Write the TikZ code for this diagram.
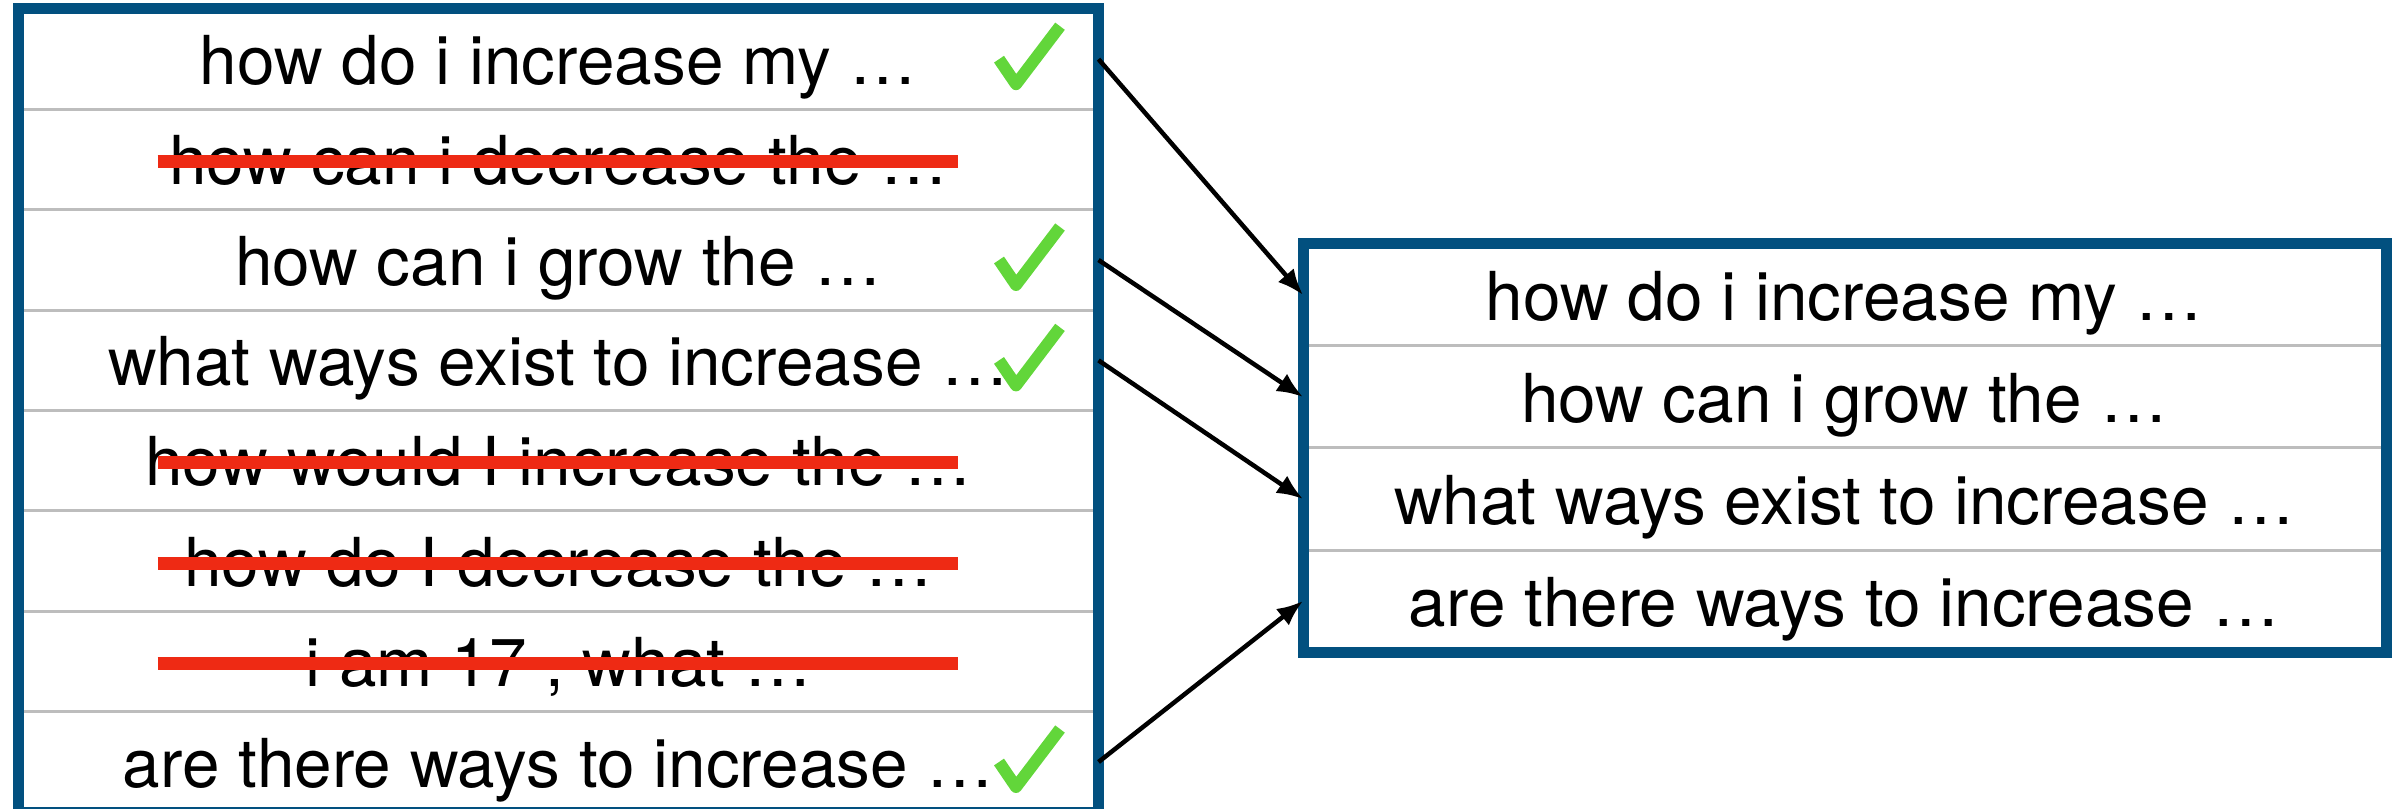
\documentclass[tikz,border=0pt]{standalone}
\usepackage{fontspec}
\setmainfont{TeX Gyre Heros}
\usetikzlibrary{arrows.meta,positioning,calc,fit}
\definecolor{Frame}{HTML}{02507F}
\definecolor{Sep}{HTML}{BDBDBD}
\definecolor{Keep}{HTML}{62D63A}
\definecolor{Drop}{HTML}{EE2A14}
\tikzset{
  row/.style={minimum width=10.80cm,minimum height=1.004cm,inner sep=0pt,outer sep=0pt,
    text height=.62cm,text depth=.116cm,align=center,font=\fontsize{19.2}{23}\selectfont},
  rrow/.style={row,minimum width=10.83cm,minimum height=1.02cm},
  frame/.style={draw=Frame,line width=.11cm,inner sep=0pt,outer sep=0pt},
  sepline/.style={draw=Sep,line width=.03cm},
  strike/.style={draw=Drop,line width=.13cm},
  tickline/.style={draw=Keep,line width=.12cm,line join=round},
  link/.style={-{Latex[length=2.6mm,width=2.1mm]},draw=black,line width=.045cm},
  okmark/.pic={\draw[tickline] (-0.31,0.0) -- (-0.14,-0.25) -- (0.30,0.33);}
}
\begin{document}
\begin{tikzpicture}[node distance=0pt]
  \useasboundingbox (0,0) rectangle (23.94,-8.09);
  % candidate list
  \node[row] (l1) at (5.585,-0.592) {how do i increase my …};
  \node[row,below=of l1] (l2) {how can i decrease the …};
  \node[row,below=of l2] (l3) {how can i grow the …};
  \node[row,below=of l3] (l4) {what ways exist to increase …};
  \node[row,below=of l4] (l5) {how would I increase the …};
  \node[row,below=of l5] (l6) {how do I decrease the …};
  \node[row,below=of l6] (l7) {i am 17 , what …};
  \node[row,below=of l7] (l8) {are there ways to increase …};
  \foreach \i in {1,...,7}
    \draw[sepline] (l\i.south west) -- (l\i.south east);
  \node[frame,fit=(l1)(l8)] (left) {};

  % kept list
  \node[rrow] (r1) at (18.445,-2.95) {how do i increase my …};
  \node[rrow,below=of r1] (r2) {how can i grow the …};
  \node[rrow,below=of r2] (r3) {what ways exist to increase …};
  \node[rrow,below=of r3] (r4) {are there ways to increase …};
  \foreach \i in {1,2,3}
    \draw[sepline] (r\i.south west) -- (r\i.south east);
  \node[frame,fit=(r1)(r4)] (right) {};

  % marks
  \foreach \i in {2,5,6,7}
    \draw[strike] ($(l\i.center)+(-4.01,-0.02)$) -- ($(l\i.center)+(3.99,-0.02)$);
  \foreach \i in {1,3,4,8}
    \pic at ($(l\i.center)+(4.715,0)$) {okmark};

  \draw[link] (l1.east) -- (r1.west);
  \draw[link] (l3.east) -- (r2.west);
  \draw[link] (l4.east) -- (r3.west);
  \draw[link] (l8.east) -- (r4.west);
\end{tikzpicture}
\end{document}
